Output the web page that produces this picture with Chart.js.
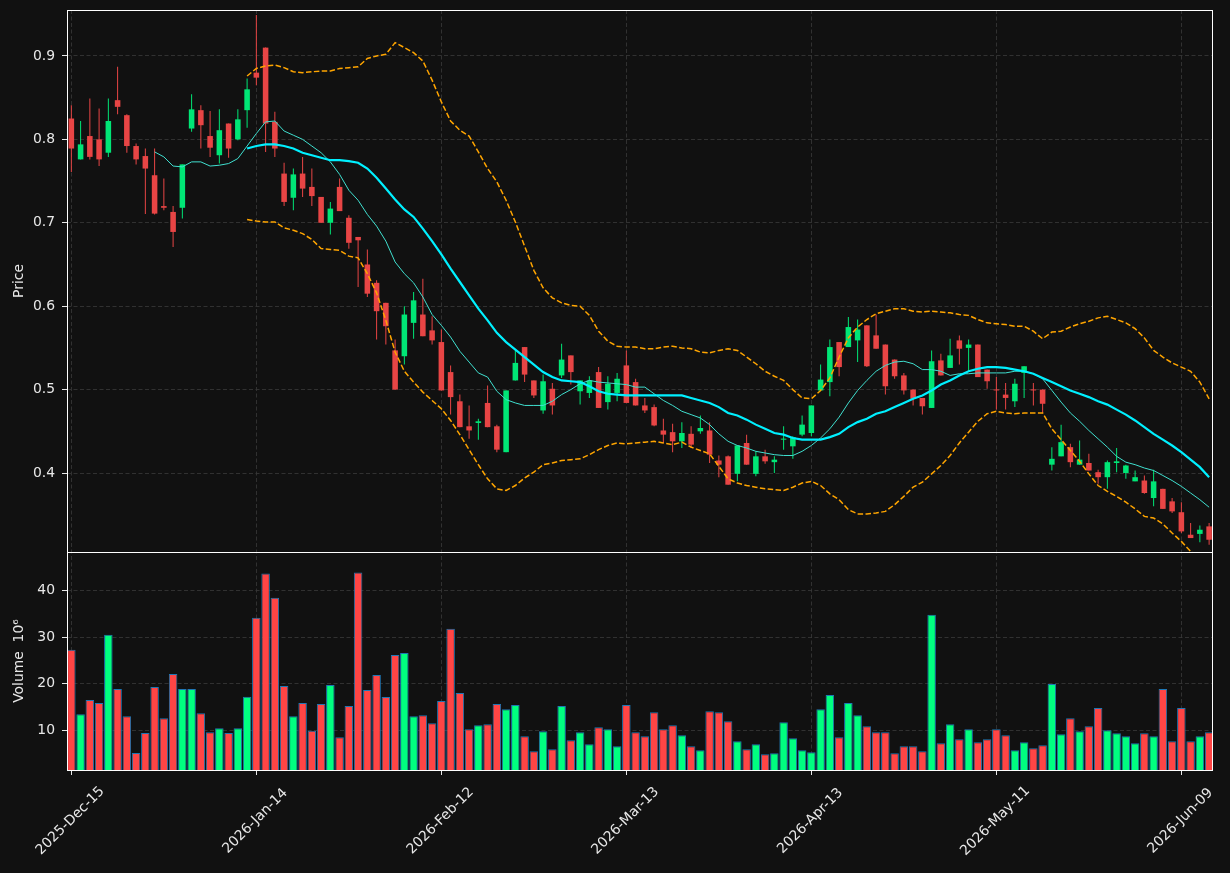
<!DOCTYPE html>
<html>
<head>
<meta charset="utf-8">
<title>Price and volume</title>
<script src="https://cdn.jsdelivr.net/npm/chart.js@4.4.1/dist/chart.umd.min.js"></script>
<style>
  html, body { margin: 0; padding: 0; background: #111111; }
  canvas { display: block; }
</style>
</head>
<body>
<canvas id="chart" width="1230" height="873"></canvas>
<script>
// x ticks: bar index and the date shown there
const tickIndex = [0, 20, 40, 60, 80, 100, 120]
const tickLabels = ['2025-Dec-15', '2026-Jan-14', '2026-Feb-12', '2026-Mar-13', '2026-Apr-13', '2026-May-11', '2026-Jun-09']
const priceTicks = [0.4, 0.5, 0.6, 0.7, 0.8, 0.9]
const volumeTicks = [10, 20, 30, 40]

// OHLC, one entry per trading day
const opens = [
  0.825, 0.776, 0.804, 0.800, 0.784, 0.847, 0.829, 0.792, 0.780, 0.757,
  0.720, 0.713, 0.718, 0.813, 0.835, 0.804, 0.781, 0.819, 0.800, 0.835,
  0.880, 0.910, 0.821, 0.759, 0.730, 0.759, 0.743, 0.731, 0.700, 0.743,
  0.706, 0.683, 0.650, 0.628, 0.604, 0.547, 0.540, 0.580, 0.590, 0.571,
  0.557, 0.521, 0.486, 0.456, 0.460, 0.484, 0.456, 0.425, 0.511, 0.551,
  0.511, 0.475, 0.501, 0.517, 0.541, 0.498, 0.496, 0.521, 0.485, 0.496,
  0.529, 0.509, 0.481, 0.479, 0.451, 0.449, 0.438, 0.447, 0.450, 0.451,
  0.415, 0.420, 0.399, 0.436, 0.399, 0.420, 0.413, 0.440, 0.432, 0.446,
  0.448, 0.499, 0.509, 0.557, 0.551, 0.559, 0.577, 0.565, 0.554, 0.536,
  0.517, 0.500, 0.490, 0.478, 0.535, 0.526, 0.559, 0.550, 0.554, 0.524,
  0.500, 0.494, 0.486, 0.520, 0.500, 0.500, 0.410, 0.420, 0.431, 0.410,
  0.412, 0.401, 0.395, 0.412, 0.400, 0.390, 0.391, 0.370, 0.381, 0.366,
  0.353, 0.326, 0.327, 0.336
]
const highs = [
  0.841, 0.822, 0.849, 0.837, 0.849, 0.887, 0.830, 0.795, 0.789, 0.789,
  0.753, 0.720, 0.770, 0.854, 0.841, 0.834, 0.836, 0.819, 0.836, 0.873,
  0.949, 0.910, 0.833, 0.772, 0.765, 0.779, 0.765, 0.731, 0.725, 0.753,
  0.709, 0.683, 0.668, 0.631, 0.604, 0.560, 0.600, 0.617, 0.633, 0.588,
  0.572, 0.529, 0.494, 0.481, 0.465, 0.505, 0.458, 0.499, 0.548, 0.551,
  0.511, 0.518, 0.508, 0.555, 0.541, 0.511, 0.516, 0.527, 0.516, 0.520,
  0.547, 0.513, 0.490, 0.482, 0.465, 0.459, 0.461, 0.456, 0.469, 0.461,
  0.421, 0.421, 0.433, 0.446, 0.426, 0.428, 0.420, 0.456, 0.444, 0.469,
  0.481, 0.530, 0.560, 0.557, 0.587, 0.584, 0.577, 0.590, 0.554, 0.536,
  0.520, 0.500, 0.490, 0.547, 0.543, 0.561, 0.565, 0.560, 0.554, 0.524,
  0.515, 0.508, 0.513, 0.528, 0.508, 0.500, 0.431, 0.458, 0.435, 0.439,
  0.423, 0.404, 0.415, 0.430, 0.410, 0.403, 0.397, 0.404, 0.381, 0.370,
  0.365, 0.340, 0.337, 0.340
]
const lows = [
  0.761, 0.776, 0.776, 0.768, 0.779, 0.830, 0.784, 0.770, 0.7105, 0.710,
  0.715, 0.671, 0.705, 0.809, 0.789, 0.779, 0.771, 0.778, 0.799, 0.814,
  0.865, 0.785, 0.779, 0.720, 0.715, 0.731, 0.720, 0.700, 0.686, 0.714,
  0.669, 0.623, 0.611, 0.560, 0.554, 0.500, 0.530, 0.561, 0.564, 0.554,
  0.499, 0.470, 0.455, 0.441, 0.440, 0.455, 0.425, 0.425, 0.511, 0.509,
  0.490, 0.471, 0.470, 0.514, 0.506, 0.482, 0.490, 0.478, 0.476, 0.486,
  0.484, 0.481, 0.472, 0.456, 0.436, 0.425, 0.430, 0.430, 0.447, 0.412,
  0.395, 0.386, 0.390, 0.410, 0.396, 0.411, 0.400, 0.428, 0.417, 0.444,
  0.444, 0.499, 0.492, 0.516, 0.551, 0.533, 0.527, 0.549, 0.494, 0.513,
  0.494, 0.481, 0.470, 0.478, 0.517, 0.526, 0.530, 0.522, 0.515, 0.501,
  0.476, 0.476, 0.479, 0.490, 0.481, 0.472, 0.403, 0.420, 0.407, 0.410,
  0.403, 0.387, 0.381, 0.401, 0.393, 0.390, 0.375, 0.360, 0.357, 0.352,
  0.328, 0.322, 0.317, 0.314
]
const closes = [
  0.789, 0.794, 0.779, 0.776, 0.822, 0.839, 0.792, 0.776, 0.765, 0.711,
  0.718, 0.689, 0.770, 0.836, 0.817, 0.790, 0.811, 0.789, 0.824, 0.860,
  0.874, 0.819, 0.789, 0.725, 0.758, 0.741, 0.732, 0.700, 0.717, 0.714,
  0.676, 0.679, 0.615, 0.594, 0.576, 0.500, 0.590, 0.607, 0.564, 0.559,
  0.499, 0.491, 0.455, 0.451, 0.462, 0.455, 0.428, 0.499, 0.532, 0.518,
  0.493, 0.510, 0.481, 0.536, 0.521, 0.511, 0.511, 0.478, 0.507, 0.513,
  0.484, 0.481, 0.475, 0.457, 0.446, 0.438, 0.448, 0.434, 0.454, 0.422,
  0.410, 0.386, 0.433, 0.410, 0.420, 0.414, 0.416, 0.441, 0.443, 0.458,
  0.481, 0.512, 0.551, 0.527, 0.575, 0.572, 0.528, 0.549, 0.504, 0.516,
  0.499, 0.489, 0.480, 0.534, 0.517, 0.541, 0.549, 0.554, 0.515, 0.510,
  0.499, 0.490, 0.507, 0.528, 0.499, 0.483, 0.417, 0.437, 0.413, 0.416,
  0.403, 0.395, 0.413, 0.414, 0.409, 0.395, 0.376, 0.390, 0.357, 0.354,
  0.330, 0.322, 0.332, 0.320
]
// volume in millions
const volumes = [
  27.27, 13.45, 16.47, 15.83, 30.50, 18.85, 13.02, 5.11, 9.42, 19.28,
  12.59, 22.09, 18.85, 18.85, 13.67, 9.57, 10.43, 9.42, 10.43, 17.19,
  34.17, 43.67, 38.49, 19.50, 13.02, 15.83, 9.86, 15.61, 19.71, 8.49,
  15.18, 43.88, 18.63, 21.87, 17.12, 26.19, 26.62, 13.02, 13.24, 11.51,
  16.26, 31.80, 17.99, 10.22, 11.08, 11.29, 15.61, 14.53, 15.40, 8.71,
  5.47, 9.78, 5.90, 15.18, 7.84, 9.57, 6.98, 10.65, 10.22, 6.55,
  15.40, 9.57, 8.71, 13.88, 10.22, 11.08, 8.92, 6.55, 5.68, 14.10,
  13.88, 11.94, 7.63, 5.90, 6.98, 4.82, 5.04, 11.73, 8.27, 5.68,
  5.25, 14.53, 17.55, 8.49, 15.83, 13.24, 10.86, 9.57, 9.57, 5.04,
  6.55, 6.55, 5.47, 34.82, 7.19, 11.29, 8.06, 10.22, 7.41, 8.06,
  10.22, 8.92, 5.68, 7.41, 6.12, 6.76, 19.93, 9.14, 12.59, 9.78,
  10.86, 14.75, 10.00, 9.35, 8.71, 7.19, 9.35, 8.71, 18.85, 7.63,
  14.75, 7.63, 8.71, 9.57
]

// 10 day average, first value at bar 9
const ma10Start = 9
const ma10 = [
  0.785, 0.779, 0.768, 0.767, 0.773, 0.773, 0.768, 0.769, 0.771, 0.777,
  0.792, 0.807, 0.821, 0.822, 0.810, 0.805, 0.800, 0.792, 0.784, 0.773,
  0.758, 0.739, 0.727, 0.710, 0.696, 0.678, 0.653, 0.639, 0.628, 0.611,
  0.590, 0.577, 0.563, 0.546, 0.533, 0.520, 0.515, 0.498, 0.488, 0.484,
  0.481, 0.481, 0.481, 0.486, 0.494, 0.500, 0.507, 0.511, 0.509, 0.508,
  0.507, 0.506, 0.503, 0.503, 0.495, 0.487, 0.481, 0.474, 0.470, 0.466,
  0.458, 0.447, 0.438, 0.433, 0.430, 0.426, 0.424, 0.422, 0.421, 0.421,
  0.426, 0.433, 0.442, 0.453, 0.467, 0.484, 0.499, 0.511, 0.522, 0.529,
  0.533, 0.534, 0.531, 0.524, 0.524, 0.522, 0.517, 0.519, 0.519, 0.520,
  0.520, 0.520, 0.520, 0.522, 0.522, 0.519, 0.513, 0.499, 0.485, 0.472,
  0.462, 0.451, 0.441, 0.431, 0.420, 0.413, 0.410, 0.406, 0.403, 0.397,
  0.391, 0.384, 0.376, 0.368, 0.359
]
// 20 day average and its bands, first value at bar 19
const ma20Start = 19
const ma20 = [
  0.789, 0.792, 0.794, 0.794, 0.792, 0.789, 0.784, 0.781, 0.778, 0.775,
  0.775, 0.774, 0.772, 0.765, 0.754, 0.741, 0.728, 0.716, 0.707, 0.693,
  0.678, 0.662, 0.645, 0.629, 0.613, 0.597, 0.583, 0.568, 0.557, 0.548,
  0.539, 0.530, 0.521, 0.515, 0.511, 0.510, 0.509, 0.504, 0.498, 0.495,
  0.494, 0.493, 0.493, 0.493, 0.493, 0.493, 0.493, 0.493, 0.490, 0.487,
  0.484, 0.479, 0.472, 0.469, 0.464, 0.458, 0.453, 0.448, 0.446, 0.442,
  0.440, 0.440, 0.440, 0.443, 0.447, 0.455, 0.461, 0.465, 0.471, 0.474,
  0.479, 0.484, 0.489, 0.493, 0.499, 0.506, 0.511, 0.517, 0.522, 0.525,
  0.527, 0.527, 0.526, 0.524, 0.522, 0.519, 0.514, 0.509, 0.504, 0.499,
  0.495, 0.491, 0.486, 0.482, 0.476, 0.470, 0.463, 0.455, 0.447, 0.440,
  0.433, 0.425, 0.416, 0.407, 0.395
]
const bandUpper = [
  0.876, 0.885, 0.888, 0.889, 0.886, 0.881, 0.880, 0.881, 0.882, 0.882,
  0.885, 0.886, 0.887, 0.897, 0.900, 0.902, 0.916, 0.910, 0.904, 0.894,
  0.871, 0.845, 0.822, 0.811, 0.804, 0.785, 0.765, 0.749, 0.727, 0.701,
  0.672, 0.643, 0.622, 0.610, 0.604, 0.601, 0.600, 0.589, 0.570, 0.558,
  0.552, 0.551, 0.551, 0.549, 0.549, 0.551, 0.552, 0.550, 0.549, 0.545,
  0.544, 0.547, 0.549, 0.547, 0.539, 0.531, 0.522, 0.516, 0.511, 0.500,
  0.490, 0.489, 0.499, 0.514, 0.539, 0.562, 0.575, 0.584, 0.591, 0.594,
  0.597, 0.597, 0.594, 0.593, 0.594, 0.593, 0.592, 0.590, 0.589, 0.584,
  0.580, 0.579, 0.578, 0.576, 0.576, 0.570, 0.561, 0.569, 0.570, 0.575,
  0.579, 0.582, 0.586, 0.588, 0.584, 0.580, 0.573, 0.562, 0.547, 0.539,
  0.532, 0.527, 0.522, 0.509, 0.489
]
const bandLower = [
  0.704, 0.702, 0.701, 0.701, 0.694, 0.691, 0.687, 0.680, 0.669, 0.668,
  0.667, 0.660, 0.658, 0.639, 0.616, 0.583, 0.545, 0.522, 0.509, 0.497,
  0.487, 0.477, 0.463, 0.446, 0.428, 0.410, 0.393, 0.381, 0.379, 0.385,
  0.394, 0.401, 0.410, 0.412, 0.415, 0.416, 0.417, 0.422, 0.428, 0.433,
  0.436, 0.435, 0.436, 0.437, 0.438, 0.436, 0.434, 0.437, 0.431, 0.427,
  0.423, 0.408, 0.393, 0.388, 0.385, 0.383, 0.381, 0.380, 0.379, 0.383,
  0.388, 0.390, 0.385, 0.375, 0.368, 0.356, 0.351, 0.351, 0.352, 0.354,
  0.362, 0.372, 0.383, 0.389, 0.399, 0.409, 0.421, 0.436, 0.449, 0.462,
  0.471, 0.474, 0.472, 0.471, 0.472, 0.472, 0.472, 0.453, 0.440, 0.427,
  0.414, 0.399, 0.385, 0.378, 0.372, 0.365, 0.357, 0.348, 0.346, 0.339,
  0.328, 0.318, 0.306, 0.299, 0.292
]

const TEXT = '#e8e8e8'
const GRID = '#3a3a3a'
const FONT = 'DejaVu Sans'
const FONT_SIZE = 13.9

const isUp = closes.map((c, i) => c >= opens[i])
const candleColors = isUp.map(up => up ? '#00e676' : '#e84545')
const volumeColors = isUp.map(up => up ? '#00ff80' : '#ff4545')

const atIndex = (values, start) => values.map((v, i) => ({ x: i + start, y: v }))

// fixed axis width, and no extra room reserved for the end labels
const fitLeftAxis = scale => {
  scale.width = 67
  scale.paddingTop = 0
  scale.paddingBottom = 0
}

// keep each dataset inside its own panel
const panelClip = {
  id: 'panelClip',
  beforeDatasetDraw (chart, args) {
    const yScale = chart.scales[args.meta.yAxisID]
    const { left, right } = chart.chartArea
    chart.ctx.save()
    chart.ctx.beginPath()
    chart.ctx.rect(left, yScale.top, right - left, yScale.bottom - yScale.top)
    chart.ctx.clip()
  },
  afterDatasetDraw (chart) {
    chart.ctx.restore()
  }
}

// panel frames and the rotated date labels (centred on the tick)
const decorations = {
  id: 'decorations',
  afterDraw (chart) {
    const { ctx, chartArea, scales } = chart
    const left = Math.round(chartArea.left) + 0.5
    const right = Math.round(chartArea.right) - 0.5
    ctx.save()
    ctx.strokeStyle = '#ffffff'
    ctx.lineWidth = 1
    for (const s of [scales.y, scales.yv]) {
      const top = Math.round(s.top) + 0.5
      const bottom = Math.round(s.bottom) + 0.5
      ctx.strokeRect(left, top, right - left, bottom - top)
    }
    ctx.fillStyle = TEXT
    ctx.font = FONT_SIZE + 'px "' + FONT + '"'
    ctx.textAlign = 'center'
    ctx.textBaseline = 'middle'
    tickIndex.forEach((value, k) => {
      const x = scales.x.getPixelForValue(value)
      ctx.save()
      ctx.translate(x - 1, chartArea.bottom + 51)
      ctx.rotate(-Math.PI / 4)
      ctx.fillText(tickLabels[k], 0, 0)
      ctx.restore()
    })
    ctx.restore()
  }
}

const lineSet = (label, values, start, color, width, dash) => ({
  type: 'line',
  label,
  data: atIndex(values, start),
  yAxisID: 'y',
  borderColor: color,
  borderWidth: width,
  borderDash: dash || [],
  pointRadius: 0,
  fill: false,
  tension: 0,
  order: 0
})

new Chart(document.getElementById('chart'), {
  type: 'bar',
  data: {
    datasets: [
      lineSet('MA20', ma20, ma20Start, '#00f0ff', 2.2),
      lineSet('MA10', ma10, ma10Start, '#40e0d0', 1),
      lineSet('Upper band', bandUpper, ma20Start, '#ffa500', 1.5, [5.5, 2.4]),
      lineSet('Lower band', bandLower, ma20Start, '#ffa500', 1.5, [5.5, 2.4]),
      {
        label: 'Body',
        data: opens.map((o, i) => ({ x: i, y: [o, closes[i]] })),
        yAxisID: 'y',
        backgroundColor: candleColors,
        borderWidth: 0,
        barPercentage: 0.6,
        categoryPercentage: 1,
        minBarLength: 1,
        grouped: false,
        order: 1
      },
      {
        label: 'Wick',
        data: lows.map((l, i) => ({ x: i, y: [l, highs[i]] })),
        yAxisID: 'y',
        backgroundColor: candleColors,
        borderWidth: 0,
        maxBarThickness: 1,
        grouped: false,
        order: 2
      },
      {
        label: 'Volume',
        data: volumes.map((v, i) => ({ x: i, y: v })),
        yAxisID: 'yv',
        backgroundColor: volumeColors,
        borderColor: '#1f77b4',
        borderWidth: 1,
        borderSkipped: false,
        barPercentage: 0.92,
        categoryPercentage: 1,
        grouped: false,
        order: 3
      }
    ]
  },
  options: {
    responsive: false,
    animation: false,
    layout: { padding: { top: 10, right: 17, bottom: 98, left: 0 } },
    plugins: {
      legend: { display: false },
      tooltip: { enabled: false }
    },
    scales: {
      x: {
        type: 'linear',
        min: -0.47,
        max: 123.42,
        offset: false,
        afterBuildTicks: scale => { scale.ticks = tickIndex.map(value => ({ value })) },
        ticks: { display: false },
        grid: { color: GRID, lineWidth: 0.8, offset: false, tickColor: TEXT, tickLength: 5, tickWidth: 1 },
        border: { display: false, dash: [4, 2.5] }
      },
      y: {
        type: 'linear',
        position: 'left',
        stack: 'panels',
        stackWeight: 542,
        weight: 2,
        min: 0.3053,
        max: 0.9551,
        afterBuildTicks: scale => { scale.ticks = priceTicks.map(value => ({ value })) },
        afterFit: fitLeftAxis,
        ticks: {
          color: TEXT,
          font: { family: FONT, size: FONT_SIZE },
          padding: 7,
          callback: v => v.toFixed(1)
        },
        grid: { color: GRID, lineWidth: 0.8, tickColor: TEXT, tickLength: 5, tickWidth: 1 },
        border: { display: false, dash: [4, 2.5] },
        title: {
          display: true,
          text: 'Price',
          color: TEXT,
          font: { family: FONT, size: FONT_SIZE },
          padding: { top: 11, bottom: 0 }
        }
      },
      yv: {
        type: 'linear',
        position: 'left',
        stack: 'panels',
        stackWeight: 218,
        weight: 1,
        min: 1.45,
        max: 48.3,
        afterBuildTicks: scale => { scale.ticks = volumeTicks.map(value => ({ value })) },
        afterFit: fitLeftAxis,
        ticks: {
          color: TEXT,
          font: { family: FONT, size: FONT_SIZE },
          padding: 7,
          callback: v => String(v)
        },
        grid: { color: GRID, lineWidth: 0.8, tickColor: TEXT, tickLength: 5, tickWidth: 1 },
        border: { display: false, dash: [4, 2.5] },
        title: {
          display: true,
          text: 'Volume  10⁶',
          color: TEXT,
          font: { family: FONT, size: FONT_SIZE },
          padding: { top: 11, bottom: 0 }
        }
      }
    }
  },
  plugins: [panelClip, decorations]
})
</script>
</body>
</html>
